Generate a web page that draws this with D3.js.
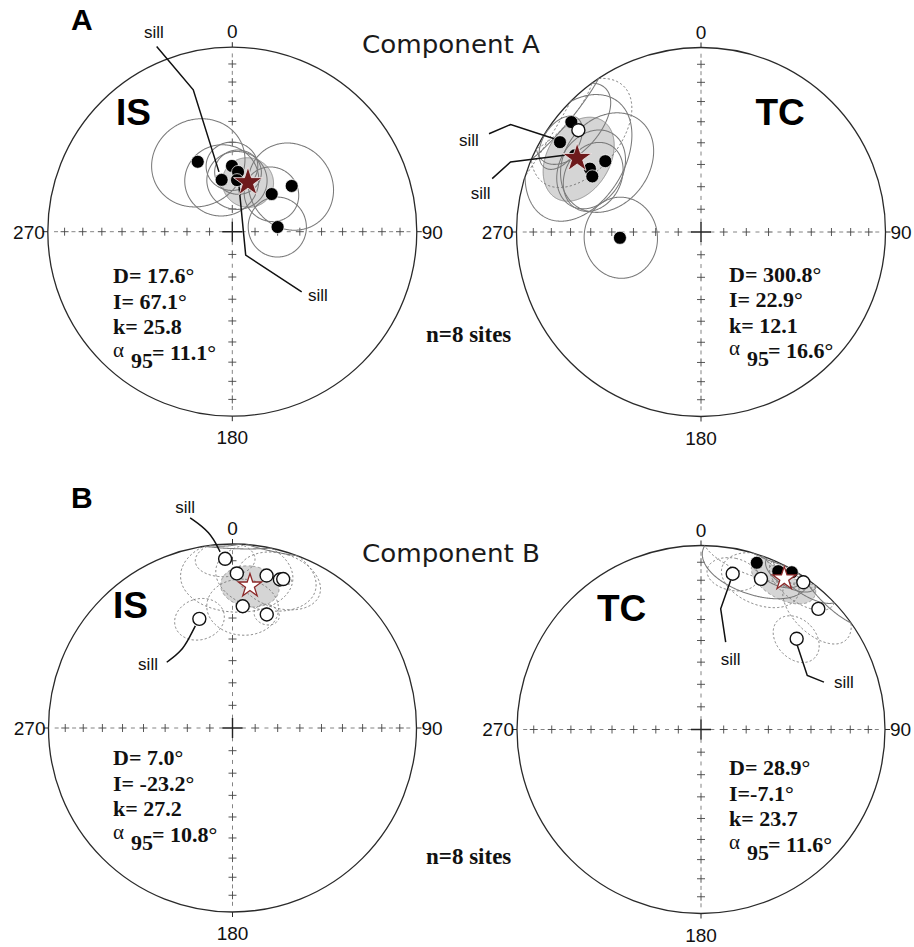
<!DOCTYPE html>
<html>
<head>
<meta charset="utf-8">
<script src="https://cdn.jsdelivr.net/npm/d3@7"></script>
<style>
  body { margin: 0; background: #fff; }
  svg { display: block; }
</style>
</head>
<body>
<svg id="fig" width="914" height="947"></svg>
<script>
// ---- Site-mean directions: declination (deg), inclination (deg), alpha95 (deg) ----
// Component A, in situ
const compA_IS_dec = [333.7, 348.4, 359.7, 5.5, 5.2, 46.3, 52.4, 84.1];
const compA_IS_inc = [55.2, 66.6, 60.8, 63.4, 67.1, 65.9, 56.6, 69.9];
const compA_IS_a95 = [20, 16, 11, 10, 13, 12, 19, 13];
// Component A, tilt corrected
const compA_TC_dec = [310.3, 309.7, 302.5, 306.5, 299.7, 297.1, 265.9, 301.3];
const compA_TC_inc = [8.7, -14.7, 10.3, 35.7, 31.3, 34.2, 53.7, 21.1];
const compA_TC_a95 = [16, 22, 10, 21, 16, 14, 17, 25];
// Component B, in situ
const compB_IS_dec = [357.5, 1.6, 12.6, 17.7, 4.8, 16.8, 343.1, 18.8];
const compB_IS_inc = [-8.8, -17.1, -16.2, -16.4, -34.0, -35.8, -38.0, -15.6];
const compB_IS_a95 = [10, 20, 18, 15, 14, 5, 10, 3];
// Component B, tilt corrected
const compB_TC_dec = [18.5, 26.0, 30.0, 21.7, 34.8, 44.2, 11.5, 46.5];
const compB_TC_inc = [5.0, 4.8, 1.5, -12.9, -2.9, -9.4, -14.7, -29.1];
const compB_TC_a95 = [18, 8, 9, 14, 12, 14, 9, 10];

// Fisher means: IS-A, TC-A, IS-B, TC-B
const meanDec = [17.6, 300.8, 7.0, 28.9];
const meanInc = [67.1, 22.9, -23.2, -7.1];
const meanK   = [25.8, 12.1, 27.2, 23.7];
const meanA95 = [11.1, 16.6, 10.8, 11.6];

// Net graduations (inclination of the crosses along the axes)
const tickInc = [80, 70, 60, 50, 40, 30, 20, 10];
const dashInc = [85, 75, 65, 55, 45, 35, 25, 15, 5];
const azimuthLabels = ["0", "90", "180", "270"];
const sillSites = [[1, 4], [2, 7], [0, 6], [6, 7]];
const nSites = [8, 8];

// ---- Layout ----
const panels = [
  { cx: 232.3, cy: 231.7, R: 184.5, frame: "IS", dec: compA_IS_dec, inc: compA_IS_inc, a95: compA_IS_a95,
    frameXY: [116, 125], statXY: [113, 283], filledStar: true },
  { cx: 701, cy: 232, R: 184.5, frame: "TC", dec: compA_TC_dec, inc: compA_TC_inc, a95: compA_TC_a95,
    frameXY: [755.5, 125], statXY: [729, 281.5], filledStar: true },
  { cx: 232.5, cy: 728, R: 184, frame: "IS", dec: compB_IS_dec, inc: compB_IS_inc, a95: compB_IS_a95,
    frameXY: [113, 618], statXY: [113, 765], filledStar: false },
  { cx: 701, cy: 729.5, R: 184, frame: "TC", dec: compB_TC_dec, inc: compB_TC_inc, a95: compB_TC_a95,
    frameXY: [597, 621], statXY: [729, 775], filledStar: false }
];

// leader lines for the "sill" annotations: offsets from the plotted site
const leaders = [
  [ { label: [-67.7, -142], pts: [[-65, -133.3], [-28.4, -90], [-2.7, -8]], curve: d3.curveLinear },
    { label: [81, 121], pts: [[64.7, 111.7], [8.7, 75], [2, 6]], curve: d3.curveLinear } ],
  [ { label: [-91, 4.3], pts: [[-71, -8.4], [-49.3, -17.7], [-2.7, -2.4]], curve: d3.curveLinear },
    { label: [-94.3, 44], pts: [[-82.7, 23.3], [-64.3, 6.7], [-2.7, -1]], curve: d3.curveLinear } ],
  [ { label: [-40, -46], pts: [[-35, -41], [-15, -27], [-5, -7]], curve: d3.curveBasis },
    { label: [-51.3, 50.7], pts: [[-32.6, 43.4], [-17.6, 32.4], [-9.3, 17.4], [-4, 7]], curve: d3.curveBasis } ],
  [ { label: [-2, 91.7], pts: [[-7, 68.4], [-12, 35], [-2, 6.5]], curve: d3.curveLinear },
    { label: [47.3, 49.7], pts: [[27.3, 43.4], [10.6, 36.7], [0.6, 6.5]], curve: d3.curveLinear } ]
];

const rad = Math.PI / 180;
const svg = d3.select("#fig");
const SANS = "Liberation Sans, Arial, Helvetica, sans-serif";
const SERIF = "Liberation Serif, Times New Roman, serif";

// points of the small circle of radius a95 about (dec, inc)
function cone(dec, inc, a95, n = 360) {
  const d = dec * rad, i = inc * rad, a = a95 * rad;
  const v = [Math.cos(i) * Math.cos(d), Math.cos(i) * Math.sin(d), Math.sin(i)];
  const e1 = [-Math.sin(i) * Math.cos(d), -Math.sin(i) * Math.sin(d), Math.cos(i)];
  const e2 = [-Math.sin(d), Math.cos(d), 0];
  return d3.range(n).map(k => {
    const t = 2 * Math.PI * k / n;
    const u = [0, 1, 2].map(j => Math.cos(a) * v[j] + Math.sin(a) * (Math.cos(t) * e1[j] + Math.sin(t) * e2[j]));
    return { dec: Math.atan2(u[1], u[0]) / rad, inc: Math.asin(Math.max(-1, Math.min(1, u[2]))) / rad };
  });
}

// split a closed ring into lower- and upper-hemisphere runs
function splitRuns(pts) {
  const n = pts.length;
  const low = pts.map(p => p.inc >= 0);
  const start = low.findIndex((l, i) => l !== low[(i - 1 + n) % n]);
  if (start < 0) return [{ lower: low[0], pts: pts.concat([pts[0]]) }];
  const runs = [];
  let cur = { lower: low[start], pts: [] };
  for (let k = 0; k <= n; k++) {
    const i = (start + k) % n;
    if (low[i] !== cur.lower) {
      cur.pts.push(pts[i]);
      runs.push(cur);
      cur = { lower: low[i], pts: [pts[i]] };
    } else cur.pts.push(pts[i]);
  }
  return runs;
}

panels.forEach((p, pi) => {
  const g = svg.append("g");
  const x = d3.scaleLinear().domain([-1, 1]).range([p.cx - p.R, p.cx + p.R]);
  const y = d3.scaleLinear().domain([-1, 1]).range([p.cy + p.R, p.cy - p.R]);
  // Lambert equal-area radial distance: r = sqrt(1 - sin|I|)
  const rr = d3.scaleSqrt().domain([0, 1]).range([0, 1]);
  const proj = (dec, inc) => {
    const r = rr(1 - Math.abs(Math.sin(inc * rad)));
    return [x(r * Math.sin(dec * rad)), y(r * Math.cos(dec * rad))];
  };
  const line = d3.line().x(d => proj(d.dec, d.inc)[0]).y(d => proj(d.dec, d.inc)[1]);

  // primitive circle
  g.append("circle").attr("cx", x(0)).attr("cy", y(0)).attr("r", x(1) - x(0))
    .attr("fill", "none").attr("stroke", "#2a2a2a").attr("stroke-width", 1.3);

  // axis graduations
  const axes = [0, 90, 180, 270];
  axes.forEach(az => {
    tickInc.forEach(ti => {
      const [tx, ty] = proj(az, ti);
      g.append("path").attr("d", `M${tx - 4},${ty}H${tx + 4}M${tx},${ty - 4}V${ty + 4}`)
        .attr("stroke", "#444").attr("stroke-width", 0.9).attr("fill", "none");
    });
    dashInc.forEach(di => {
      const [tx, ty] = proj(az, di);
      const horiz = az === 90 || az === 270;
      g.append("path").attr("d", horiz ? `M${tx - 2},${ty}H${tx + 2}` : `M${tx},${ty - 2}V${ty + 2}`)
        .attr("stroke", "#666").attr("stroke-width", 0.8);
    });
    const [ex, ey] = proj(az, 0);
    const ox = Math.sin(az * rad) * 5, oy = -Math.cos(az * rad) * 5;
    g.append("line").attr("x1", ex).attr("y1", ey).attr("x2", ex + ox).attr("y2", ey + oy)
      .attr("stroke", "#2a2a2a").attr("stroke-width", 1);
  });
  g.append("path").attr("d", `M${x(0) - 10},${y(0)}H${x(0) + 10}M${x(0)},${y(0) - 10}V${y(0) + 10}`)
    .attr("stroke", "#222").attr("stroke-width", 1.4);

  // azimuth labels
  const lab = g.append("g").attr("font-family", SANS).attr("font-size", 19).attr("fill", "#111");
  lab.append("text").attr("x", x(0)).attr("y", y(1) - 9).attr("text-anchor", "middle").text(azimuthLabels[0]);
  lab.append("text").attr("x", x(1) + 5).attr("y", y(0)).attr("dy", "0.36em").attr("text-anchor", "start").text(azimuthLabels[1]);
  lab.append("text").attr("x", x(0)).attr("y", y(-1) + 28).attr("text-anchor", "middle").text(azimuthLabels[2]);
  lab.append("text").attr("x", x(-1) - 3).attr("y", y(0)).attr("dy", "0.36em").attr("text-anchor", "end").text(azimuthLabels[3]);

  // confidence region of the mean
  const mRing = cone(meanDec[pi], meanInc[pi], meanA95[pi]);
  g.append("path").attr("d", line(mRing) + "Z")
    .attr("fill", "#d5d5d5").attr("stroke", "none");
  splitRuns(mRing).forEach(run => {
    g.append("path").attr("d", line(run.pts)).attr("fill", "none")
      .attr("stroke", "#8a8a8a").attr("stroke-width", 0.9)
      .attr("stroke-dasharray", p.filledStar && run.lower ? null : "3,2.5");
  });

  // site alpha95 circles: solid on the lower hemisphere, dotted on the upper
  p.dec.forEach((d, i) => {
    splitRuns(cone(d, p.inc[i], p.a95[i])).forEach(run => {
      g.append("path").attr("d", line(run.pts)).attr("fill", "none")
        .attr("stroke", run.lower ? "#7a7a7a" : "#707070")
        .attr("stroke-width", run.lower ? 1.05 : 0.95)
        .attr("stroke-dasharray", run.lower ? null : "2.2,2.2");
    });
  });

  // sill leaders and labels
  sillSites[pi].forEach((si, k) => {
    const L = leaders[pi][k];
    const [sx, sy] = proj(p.dec[si], p.inc[si]);
    const pts = L.pts.map(o => [sx + o[0], sy + o[1]]);
    g.append("path").attr("d", d3.line().curve(L.curve)(pts)).attr("fill", "none")
      .attr("stroke", "#111").attr("stroke-width", 1.5);
    g.append("text").attr("x", sx + L.label[0]).attr("y", sy + L.label[1])
      .attr("text-anchor", "middle").attr("font-family", SANS).attr("font-size", 17)
      .attr("fill", "#111").text("sill");
  });

  // site directions: filled = lower hemisphere, open = upper hemisphere
  p.dec.forEach((d, i) => {
    const [sx, sy] = proj(d, p.inc[i]);
    const lower = p.inc[i] >= 0;
    g.append("circle").attr("cx", sx).attr("cy", sy).attr("r", 6.5)
      .attr("fill", lower ? "#000" : "#fff")
      .attr("stroke", lower ? "#fff" : "#111").attr("stroke-width", lower ? 0.7 : 1.4);
  });

  // mean direction star
  const [mx, my] = proj(meanDec[pi], meanInc[pi]);
  g.append("path").attr("transform", `translate(${mx},${my})`)
    .attr("d", d3.symbol().type(d3.symbolStar).size(p.filledStar ? 260 : 170)())
    .attr("fill", p.filledStar ? "#6e1a1c" : "#fff")
    .attr("stroke", p.filledStar ? "#f4eeee" : "#8c2a2a")
    .attr("stroke-width", p.filledStar ? 0.8 : 1.3);

  // frame label
  g.append("text").attr("x", p.frameXY[0]).attr("y", p.frameXY[1])
    .attr("font-family", SANS).attr("font-weight", "bold").attr("font-size", 37).attr("fill", "#000")
    .text(p.frame);

  // Fisher statistics
  const st = g.append("g").attr("font-family", SERIF).attr("font-weight", "bold")
    .attr("font-size", 22).attr("fill", "#111");
  const [tx, ty] = p.statXY;
  const step = 25.5;
  const incStr = meanInc[pi] < 0 && meanInc[pi] > -10 ? "I=" : "I= ";
  st.append("text").attr("x", tx).attr("y", ty).text(`D= ${meanDec[pi].toFixed(1)}°`);
  st.append("text").attr("x", tx).attr("y", ty + step).text(`${incStr}${meanInc[pi].toFixed(1)}°`);
  st.append("text").attr("x", tx).attr("y", ty + 2 * step).text(`k= ${meanK[pi].toFixed(1)}`);
  const a = st.append("text").attr("x", tx).attr("y", ty + 3 * step);
  a.append("tspan").attr("font-weight", "normal").attr("font-size", 21).attr("dy", -3).text("α");
  a.append("tspan").attr("x", tx + 18).attr("dy", 11).text("95");
  a.append("tspan").attr("x", tx + 39).attr("dy", -8).text(`= ${meanA95[pi].toFixed(1)}°`);
});

// panel letters, component titles and site counts
const letters = [["A", 30], ["B", 508]];
letters.forEach(([t, yy]) => {
  svg.append("text").attr("x", 71).attr("y", yy).attr("font-family", SANS).attr("font-weight", "bold")
    .attr("font-size", 30).attr("fill", "#000").text(t);
});
const titles = [["Component A", 53], ["Component B", 562]];
titles.forEach(([t, yy]) => {
  svg.append("text").attr("x", 362).attr("y", yy).attr("font-family", "DejaVu Sans, sans-serif")
    .attr("font-size", 25).attr("fill", "#1a1a1a")
    .attr("textLength", 178).attr("lengthAdjust", "spacingAndGlyphs").text(t);
});
const countY = [342, 864];
countY.forEach((yy, i) => {
  svg.append("text").attr("x", 426).attr("y", yy).attr("font-family", SERIF).attr("font-weight", "bold")
    .attr("font-size", 23).attr("fill", "#111").text(`n=${nSites[i]} sites`);
});
</script>
</body>
</html>
